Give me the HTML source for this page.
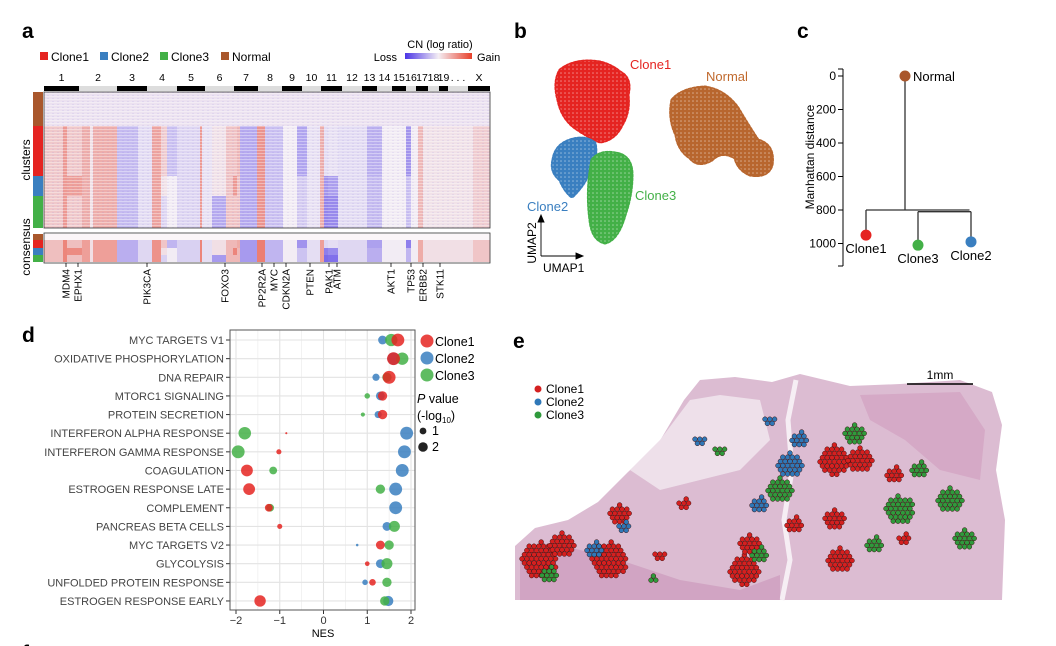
<!DOCTYPE html>
<html><head><meta charset="utf-8">
<style>
body{margin:0;background:#fff;}
svg{display:block;font-family:"Liberation Sans",Arial,sans-serif;}
</style></head>
<body>
<svg id="fig" width="1056" height="646" viewBox="0 0 1056 646">
<defs>
<linearGradient id="cnGrad" x1="0" x2="1" y1="0" y2="0">
<stop offset="0" stop-color="#4b35e6"/><stop offset="0.5" stop-color="#f4eef4"/><stop offset="1" stop-color="#e8402a"/>
</linearGradient>
<pattern id="rowTex" width="5" height="3" patternUnits="userSpaceOnUse">
<rect width="5" height="1" fill="#ffffff" opacity="0.35"/>
<rect x="2" y="2" width="2" height="1" fill="#9080e0" opacity="0.12"/>
</pattern>
<pattern id="dotTex" width="4" height="4" patternUnits="userSpaceOnUse">
<circle cx="1" cy="1" r="0.8" fill="#fff" opacity="0.45"/>
</pattern>
</defs>

<!-- ===== Panel a ===== -->
<g>
<text x="22" y="38" font-size="21" font-weight="bold">a</text>
<g font-size="12">
<rect x="40" y="52" width="8" height="8" fill="#e52421"/><text x="51" y="61">Clone1</text>
<rect x="100" y="52" width="8" height="8" fill="#3a7fc0"/><text x="111" y="61">Clone2</text>
<rect x="160" y="52" width="8" height="8" fill="#43b047"/><text x="171" y="61">Clone3</text>
<rect x="221" y="52" width="8" height="8" fill="#a9572c"/><text x="232" y="61">Normal</text>
</g>
<g font-size="11">
<text x="440" y="48" text-anchor="middle">CN (log ratio)</text>
<text x="397" y="61" text-anchor="end">Loss</text>
<rect x="405" y="53" width="67" height="6" fill="url(#cnGrad)"/>
<text x="477" y="61">Gain</text>
</g>
<g id="chromBar"></g>
<g id="heat"></g>
<rect x="44" y="92" width="446" height="136" fill="none" stroke="#333" stroke-width="0.8"/>
<rect x="44" y="233" width="446" height="30" fill="none" stroke="#333" stroke-width="0.8"/>
<rect x="33" y="92" width="10" height="34" fill="#a9572c"/>
<rect x="33" y="126" width="10" height="50" fill="#e52421"/>
<rect x="33" y="176" width="10" height="20" fill="#3a7fc0"/>
<rect x="33" y="196" width="10" height="32" fill="#43b047"/>
<rect x="33" y="234" width="10" height="6" fill="#a9572c"/>
<rect x="33" y="240" width="10" height="8" fill="#e52421"/>
<rect x="33" y="248" width="10" height="7" fill="#3a7fc0"/>
<rect x="33" y="255" width="10" height="7" fill="#43b047"/>
<text transform="translate(30,160) rotate(-90)" font-size="12" text-anchor="middle">clusters</text>
<text transform="translate(30,247) rotate(-90)" font-size="12" text-anchor="middle">consensus</text>
<g id="genes" font-size="10"></g>
</g>

<!-- ===== Panel b ===== -->
<g>
<text x="514" y="38" font-size="21" font-weight="bold">b</text>
<g id="umap"></g>
<text x="630" y="69" font-size="13" fill="#e52421">Clone1</text>
<text x="706" y="81" font-size="13" fill="#c0692d">Normal</text>
<text x="527" y="211" font-size="13" fill="#3a7fc0">Clone2</text>
<text x="635" y="200" font-size="13" fill="#43b047">Clone3</text>
<g stroke="#000" stroke-width="0.9" fill="#000">
<line x1="541" y1="256" x2="541" y2="220"/><path d="M538,222 L541,215 L544,222 Z"/>
<line x1="541" y1="256" x2="578" y2="256"/><path d="M576,253 L583,256 L576,259 Z"/>
</g>
<text transform="translate(536,243) rotate(-90)" font-size="12" text-anchor="middle">UMAP2</text>
<text x="543" y="272" font-size="12">UMAP1</text>
</g>

<!-- ===== Panel c ===== -->
<g>
<text x="797" y="38" font-size="21" font-weight="bold">c</text>
<g id="dendro"></g>
<text transform="translate(814,157) rotate(-90)" font-size="12" text-anchor="middle">Manhattan distance</text>
</g>

<!-- ===== Panel d ===== -->
<g>
<text x="22" y="342" font-size="21" font-weight="bold">d</text>
<g id="gsea"></g>
<text x="323" y="637" font-size="11" text-anchor="middle">NES</text>
<g font-size="12.5">
<circle cx="427" cy="341" r="6.5" fill="#e52421" opacity="0.85"/><text x="435" y="346">Clone1</text>
<circle cx="427" cy="358" r="6.5" fill="#3a7fc0" opacity="0.85"/><text x="435" y="363">Clone2</text>
<circle cx="427" cy="375" r="6.5" fill="#43b047" opacity="0.85"/><text x="435" y="380">Clone3</text>
<text x="417" y="403" font-size="12.5"><tspan font-style="italic">P</tspan> value</text>
<text x="417" y="420" font-size="12.5">(-log<tspan font-size="8" dy="3">10</tspan><tspan dy="-3">)</tspan></text>
<circle cx="423" cy="431" r="3.4" fill="#222"/><text x="432" y="435">1</text>
<circle cx="423" cy="447" r="4.8" fill="#222"/><text x="432" y="451">2</text>
</g>
</g>

<!-- ===== Panel e ===== -->
<g>
<text x="513" y="348" font-size="21" font-weight="bold">e</text>
<g>
<path d="M515,600 L515,546 L535,528 L568,520 L598,502 L628,472 L658,444 L684,400 L700,380 L735,377 L772,382 L800,374 L850,386 L900,384 L960,380 L992,392 L1002,425 L996,470 L1005,520 L1002,600 Z" fill="#dcbcd2"/>
<path d="M630,470 L660,440 L690,400 L720,395 L760,400 L770,440 L740,470 L700,480 L660,490 Z" fill="#eee0ea"/>
<path d="M860,395 L960,392 L985,430 L980,480 L940,470 L905,440 L870,420 Z" fill="#d5a9c6"/>
<path d="M796,380 L788,420 L792,470 L784,520 L790,560 L782,600" stroke="#f6eef4" stroke-width="5" fill="none"/>
<path d="M520,560 L560,545 L620,560 L680,580 L740,590 L780,575 L780,600 L520,600 Z" fill="#c98fb6" opacity="0.55"/>
</g>
<g id="spots"></g>
<line x1="907" y1="384" x2="973" y2="384" stroke="#000" stroke-width="1.5"/>
<text x="940" y="379" font-size="12" text-anchor="middle">1mm</text>
<g font-size="12">
<circle cx="538" cy="389" r="3.5" fill="#d42020"/><text x="546" y="393">Clone1</text>
<circle cx="538" cy="402" r="3.5" fill="#2f78b8"/><text x="546" y="406">Clone2</text>
<circle cx="538" cy="415" r="3.5" fill="#2f9a3c"/><text x="546" y="419">Clone3</text>
</g>
</g>
<text x="22" y="660" font-size="21" font-weight="bold">f</text>
<text x="513" y="660" font-size="21" font-weight="bold">g</text>
</svg>

<script>
const NS="http://www.w3.org/2000/svg";
function mk(parent,tag,attrs){const e=document.createElementNS(NS,tag);for(const k in attrs)e.setAttribute(k,attrs[k]);parent.appendChild(e);return e;}

/* ---------- Panel a data ---------- */
const chromNames=["1","2","3","4","5","6","7","8","9","10","11","12","13","14","15","16","17","18","19",". . .","X"];
const chromEnds=[ 35, 73,103,133,161,190,214,238,258,277,298,318,333,348,362,372,384,395,404,424,446];
const segStart=[0,19,23,38,46,49,73,94,108,117,123,133,156,158,168,182,189,193,196,213,221,239,253,263,276,280,284,294,323,338,362,367,374,379,429];
const segClone1=[0.35,0.8,0.35,0.6,0.1,0.6,-0.45,-0.15,0.7,0.3,-0.4,-0.2,0.8,-0.1,0.1,0.4,0.4,0.5,-0.6,0.85,-0.4,0,-0.65,-0.1,0.6,-0.15,-0.1,-0.15,-0.55,0,-0.8,0,0.5,0.1,0.3];
const segClone2=[0.35,0.8,0.75,0.6,0.1,0.6,-0.45,-0.15,0.7,0.1,0,-0.2,0.8,-0.1,0.1,0.4,0.8,0.4,-0.6,0.85,-0.4,0,-0.3,-0.1,0.6,-0.8,-0.7,-0.15,-0.45,0,-0.4,0,0.5,0.1,0.3];
const segClone3=[0.35,0.8,0.35,0.6,0.1,0.6,-0.45,-0.15,0.7,-0.2,0,-0.2,0.8,-0.1,-0.6,0.4,0.4,0.4,-0.6,0.85,-0.4,0,-0.3,-0.1,0.6,-0.95,-0.9,-0.15,-0.45,0,-0.4,0,0.5,0.1,0.3];
const geneNames=["MDM4","EPHX1","PIK3CA","FOXO3","PP2R2A","MYC","CDKN2A","PTEN","PAK1","ATM","AKT1","TP53","ERBB2","STK11"];
const genePos=[22,34,103,181,218,230,242,266,285,293,347,367,379,396];

const HX=44, HW=446;
function cnColor(v){
  const w=[242,236,244];
  const t=Math.min(1,Math.abs(v));
  const c=v>=0?[232,64,42]:[75,53,230];
  return "rgb("+w.map((x,i)=>Math.round(x+(c[i]-x)*t)).join(",")+")";
}
const chromG=document.getElementById("chromBar");
let prev=0;
chromEnds.forEach((e,i)=>{
  const r=mk(chromG,"rect",{x:HX+prev,y:86,width:e-prev,height:5,fill:i%2===0?"#000":"#ddd"});
  
  
  const t=mk(chromG,"text",{x:HX+(prev+e)/2,y:81,"font-size":10.5,"text-anchor":"middle"});
  t.textContent=chromNames[i];
  
  
  prev=e;
});
const heat=document.getElementById("heat");
const bgN=mk(heat,"rect",{x:HX,y:92,width:HW,height:34,fill:"#ece2f0"});


const rowsDef=[[segClone1,126,50,"clone1"],[segClone2,176,20,"clone2"],[segClone3,196,32,"clone3"]];
const consDef=[[segClone1,240,8],[segClone2,248,7],[segClone3,255,7]];
const cbg=mk(heat,"rect",{x:HX,y:234,width:HW,height:6,fill:"#fbf6f8"});


segStart.forEach((s,i)=>{
  const e=i+1<segStart.length?segStart[i+1]:HW;
  rowsDef.forEach(([arr,y,h,nm])=>{
    const r=mk(heat,"rect",{x:HX+s,y:y,width:e-s,height:h,fill:cnColor(arr[i]*0.6)});
    
    
  });
  consDef.forEach(([arr,y,h],k)=>{
    const r=mk(heat,"rect",{x:HX+s,y:y,width:e-s,height:h,fill:cnColor(arr[i]*0.75)});
    
    
  });
});
const tex=mk(heat,"rect",{x:HX,y:92,width:HW,height:136,fill:"url(#rowTex)"});


const genesG=document.getElementById("genes");
geneNames.forEach((g,i)=>{
  const x=HX+genePos[i];
  const l=mk(genesG,"line",{x1:x,y1:263,x2:x,y2:267,stroke:"#000","stroke-width":0.8});
  
  
  const t=mk(genesG,"text",{transform:"translate("+(x+3.5)+",269) rotate(-90)","text-anchor":"end"});
  t.textContent=g;
  
  
});

/* ---------- Panel b (UMAP cluster outlines) ---------- */
const umapClusters=["Clone1","Normal","Clone2","Clone3"];
const umapColors=["#e52421","#b8662e","#3a7fc0","#43b047"];
const umapShapes=[
 "M560,70 Q575,58 600,62 Q612,65 620,72 Q632,78 628,95 Q630,112 622,125 Q615,140 600,142 Q590,138 578,130 Q562,120 558,100 Q553,82 560,70 Z",
 "M672,100 Q682,88 705,87 Q725,90 738,108 Q748,125 758,140 Q775,145 772,165 Q768,178 750,175 Q738,170 735,158 Q722,150 712,160 Q698,168 690,158 Q678,150 676,135 Q668,118 672,100 Z",
 "M553,160 Q555,145 570,140 Q585,135 595,143 Q598,158 590,170 Q585,185 572,197 Q565,192 560,180 Q550,172 553,160 Z",
 "M592,160 Q600,150 615,153 Q632,155 632,175 Q632,195 625,215 Q618,240 605,243 Q592,240 590,220 Q586,190 592,160 Z"
];
const umapG=document.getElementById("umap");
umapClusters.forEach((c,i)=>{
  const p=mk(umapG,"path",{d:umapShapes[i],fill:umapColors[i],stroke:umapColors[i],"stroke-width":3,"stroke-dasharray":"2 2","stroke-linecap":"round"});
  
  
  const o=mk(umapG,"path",{d:umapShapes[i],fill:"url(#dotTex)"});
  
  
});

/* ---------- Panel c (dendrogram) ---------- */
const yTicks=[0,200,400,600,800,1000];
const leafNames=["Clone1","Clone3","Clone2"];
const leafHeights=[950,1010,990];
const joinHeights=[800,810];
const leafColors=["#e52421","#43b047","#3a7fc0"];
const leafX=[866,918,971], rootX=905;
const ys=v=>76+v*0.1675;
const dg=document.getElementById("dendro");
const ax=mk(dg,"line",{x1:843,y1:69,x2:843,y2:266,stroke:"#000","stroke-width":1});


mk(dg,"line",{x1:838,y1:69,x2:843,y2:69,stroke:"#000"});
mk(dg,"line",{x1:838,y1:266,x2:843,y2:266,stroke:"#000"});
yTicks.forEach(v=>{
  mk(dg,"line",{x1:838,y1:ys(v),x2:843,y2:ys(v),stroke:"#000"});
  const t=mk(dg,"text",{x:836,y:ys(v)+4,"font-size":12,"text-anchor":"end"});
  t.textContent=v;
  
  
});
const L={stroke:"#333","stroke-width":1.3,fill:"none"};
const sub=(leafX[1]+leafX[2])/2;
mk(dg,"path",Object.assign({d:`M${rootX},${ys(0)} V${ys(joinHeights[0])} M${leafX[0]},${ys(joinHeights[0])} H${sub+25} M${leafX[0]},${ys(joinHeights[0])} V${ys(leafHeights[0])} M${leafX[1]},${ys(joinHeights[1])} H${leafX[2]} M${leafX[1]},${ys(joinHeights[1])} V${ys(leafHeights[1])} M${leafX[2]},${ys(joinHeights[1])} V${ys(leafHeights[2])}`},L));
const nd=mk(dg,"circle",{cx:rootX,cy:ys(0),r:5.5,fill:"#a9572c"});


const nt=mk(dg,"text",{x:rootX+8,y:ys(0)+5,"font-size":13});
nt.textContent="Normal";


leafNames.forEach((n,i)=>{
  const c=mk(dg,"circle",{cx:leafX[i],cy:ys(leafHeights[i]),r:5.5,fill:leafColors[i]});
  
  
  const t=mk(dg,"text",{x:leafX[i],y:ys(leafHeights[i])+18,"font-size":13,"text-anchor":"middle"});
  t.textContent=n;
  
  
});

/* ---------- Panel d (GSEA dot plot) ---------- */
const pathways=["MYC TARGETS V1","OXIDATIVE PHOSPHORYLATION","DNA REPAIR","MTORC1 SIGNALING","PROTEIN SECRETION","INTERFERON ALPHA RESPONSE","INTERFERON GAMMA RESPONSE","COAGULATION","ESTROGEN RESPONSE LATE","COMPLEMENT","PANCREAS BETA CELLS","MYC TARGETS V2","GLYCOLYSIS","UNFOLDED PROTEIN RESPONSE","ESTROGEN RESPONSE EARLY"];
const nesClone1=[1.70,1.60,1.50,1.35,1.35,-0.85,-1.02,-1.75,-1.70,-1.25,-1.00,1.30,1.00,1.12,-1.45];
const pClone1  =[3.8,3.8,3.8,2.0,2.0,0.1,0.6,3.2,3.2,1.4,0.6,1.8,0.5,1.0,3.0];
const nesClone2=[1.35,1.60,1.20,1.30,1.25,1.90,1.85,1.80,1.65,1.65,1.45,0.77,1.30,0.95,1.48];
const pClone2  =[1.8,3.5,1.2,1.8,1.2,3.8,3.8,3.8,3.8,3.8,1.8,0.15,1.8,0.7,2.4];
const nesClone3=[1.55,1.80,1.45,1.00,0.90,-1.80,-1.95,-1.15,1.30,-1.22,1.62,1.50,1.45,1.45,1.40];
const pClone3  =[3.5,3.5,2.0,0.7,0.4,3.6,3.8,1.4,2.0,1.4,2.8,2.0,2.8,2.0,2.0];
const nesTicks=[-2,-1,0,1,2];
const dX=v=>323.5+v*43.75, dY=i=>340+i*18.64, dR=p=>3.3*Math.sqrt(p);
const gd=document.getElementById("gsea");
const bg=mk(gd,"rect",{x:230,y:330,width:185,height:280,fill:"#fff",stroke:"#555","stroke-width":1});


[-1.5,-0.5,0.5,1.5].forEach(v=>mk(gd,"line",{x1:dX(v),y1:330,x2:dX(v),y2:610,stroke:"#eee","stroke-width":0.7}));
nesTicks.forEach(v=>{
  mk(gd,"line",{x1:dX(v),y1:330,x2:dX(v),y2:610,stroke:"#e3e3e3","stroke-width":1.1});
  mk(gd,"line",{x1:dX(v),y1:610,x2:dX(v),y2:614,stroke:"#333"});
  const t=mk(gd,"text",{x:dX(v),y:624,"font-size":11,"text-anchor":"middle",fill:"#333"});
  t.textContent=(v<0?"\u2212"+(-v):v);
  
  
});
pathways.forEach((p,i)=>{
  mk(gd,"line",{x1:230,y1:dY(i),x2:415,y2:dY(i),stroke:"#e3e3e3","stroke-width":1.1});
  mk(gd,"line",{x1:226,y1:dY(i),x2:230,y2:dY(i),stroke:"#333"});
  const t=mk(gd,"text",{x:224,y:dY(i)+4,"font-size":11,"text-anchor":"end",fill:"#444"});
  t.textContent=p;
  
  
});
mk(gd,"rect",{x:230,y:330,width:185,height:280,fill:"none",stroke:"#555","stroke-width":1});
const series=[[nesClone2,pClone2,"#3a7fc0","clone2"],[nesClone3,pClone3,"#43b047","clone3"],[nesClone1,pClone1,"#e52421","clone1"]];
pathways.forEach((p,i)=>{
  series.forEach(([n,pv,col,nm])=>{
    const c=mk(gd,"circle",{cx:dX(n[i]),cy:dY(i),r:dR(pv[i]),fill:col,opacity:0.85});
    
    
  });
});

/* ---------- Panel e (spatial clone spots) ---------- */
const spotX=[540,562,610,620,685,745,750,795,835,860,835,895,840,905,660, 595,625,790,800,760,700,770, 550,760,780,855,900,920,950,965,875,720,655];
const spotY=[560,545,560,515,505,570,545,525,460,460,520,475,560,540,555, 550,528,465,440,505,440,420, 575,555,490,435,510,470,500,540,545,450,580];
const spotR=[18,12,18,10,6,15,10,8,15,12,10,8,12,6,5, 8,6,12,8,8,5,5, 8,8,12,10,14,8,12,10,8,5,4];
const spotClone=[0,0,0,0,0,0,0,0,0,0,0,0,0,0,0, 1,1,1,1,1,1,1, 2,2,2,2,2,2,2,2,2,2,2];
const spotCols=["#d42020","#2f78b8","#2f9a3c"];
const sg=document.getElementById("spots");
spotX.forEach((x,i)=>{
  const g=mk(sg,"g",{});
  
  
  const R=spotR[i];
  for(let dy=-R;dy<=R;dy+=4.2){
    const row=Math.round(dy/4.2);
    for(let dx=-R+(row%2?2.4:0);dx<=R;dx+=4.8){
      if(dx*dx+dy*dy<=R*R+4) mk(g,"circle",{cx:x+dx,cy:spotY[i]+dy,r:2.4,fill:spotCols[spotClone[i]],stroke:"#3a1010","stroke-width":0.5});
    }
  }
});
</script>
</body></html>
